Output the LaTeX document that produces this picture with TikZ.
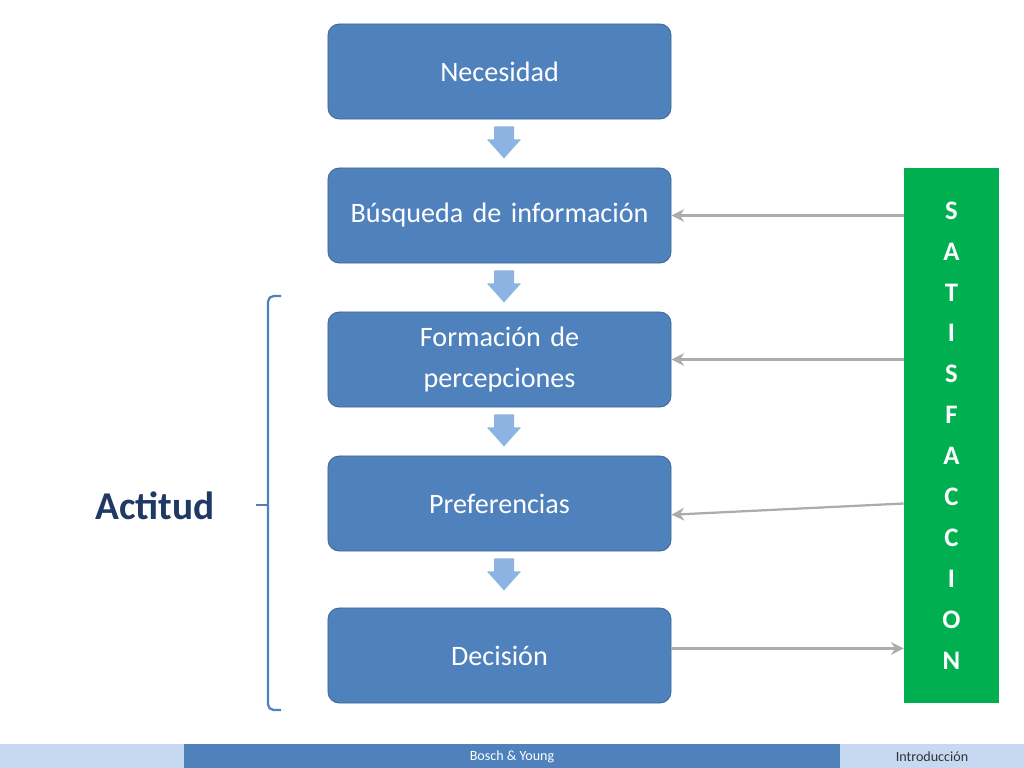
\documentclass[tikz,border=0pt]{standalone}
\usepackage{fontspec}
\setmainfont{Carlito}
\usetikzlibrary{positioning,arrows.meta,calc}
\definecolor{boxblue}{HTML}{4F81BD}
\definecolor{lightblue}{HTML}{8DB3E2}
\definecolor{footblue}{HTML}{C6D9F1}
\definecolor{satgreen}{HTML}{00B050}
\definecolor{navy}{HTML}{1F3864}
\tikzset{step box/.style={rectangle, rounded corners=8pt, fill=boxblue, draw=boxblue!80!black, line width=0.6pt,
    minimum width=8.575cm, minimum height=2.375cm, text width=8cm, align=center, text=white, font=\fontsize{20}{29}\selectfont},
  back arrow/.style={draw=gray!65, line width=1.6pt, -{Stealth[length=9pt,width=9pt]}},}
\begin{document}
\begin{tikzpicture}[x=0.025cm,y=-0.025cm]
        \useasboundingbox (0,0) rectangle (1024,768);
        % Footer
        \fill[footblue] (0,744) rectangle (1024,768);
        \fill[boxblue] (184,744) rectangle (840,768);
        \node[text=white, font=\fontsize{10}{12}\selectfont] (autor) at (512,757) {Bosch \& Young};
        \node[text=black!80, font=\fontsize{10}{12}\selectfont] (tema) at (932,757) {Introducción};
        % Nodes
        \node[step box] (1) at (499.5,71.5) {Necesidad};
        \node[step box] (2) at (499.5,215.5) {Búsqueda de información};
        \node[step box] (3) at (499.5,359.5) {Formación de percepciones};
        \node[step box] (4) at (499.5,503.5) {Preferencias};
        \node[step box] (5) at (499.5,655.5) {Decisión};
        \node[fill=satgreen, minimum width=2.375cm, minimum height=13.375cm, inner sep=0pt,
              text=white, font=\bfseries\fontsize{19}{29.1}\selectfont, align=center] (sat) at (951.5,435.5)
              {S\\A\\T\\I\\S\\F\\A\\C\\C\\I\\O\\N};
        % Block arrows
        \foreach \a in {1,2,3,4}
          \fill[lightblue] ($(\a.south)+(-5.5,7)$) -- ++(0,13) -- ++(-7,0) -- ++(17,19) -- ++(17,-19) -- ++(-7,0) -- ++(0,-13) -- cycle;
        % Paths
        \draw[back arrow] (sat.west |- 2) -- (2.east);
        \draw[back arrow] (sat.west |- 3) -- (3.east);
        \draw[back arrow] (sat.west |- 4) -- ([yshift=-8]4.east);
        \draw[back arrow] ([yshift=5]5.east) -- ([yshift=5]sat.west |- 5);
        % Brace
        \coordinate (top) at (281,296);
        \coordinate (bot) at (281,710);
        \draw[boxblue, line width=1.6pt, rounded corners=4pt] (top) -- (268,296) -- (268,710) -- (bot);
        \draw[boxblue, line width=1.6pt] (268,505) -- (256,505);
        \node[text=navy, font=\bfseries\fontsize{28}{32}\selectfont] (actitud) at (155,506) {Actitud};
\end{tikzpicture}
\end{document}
